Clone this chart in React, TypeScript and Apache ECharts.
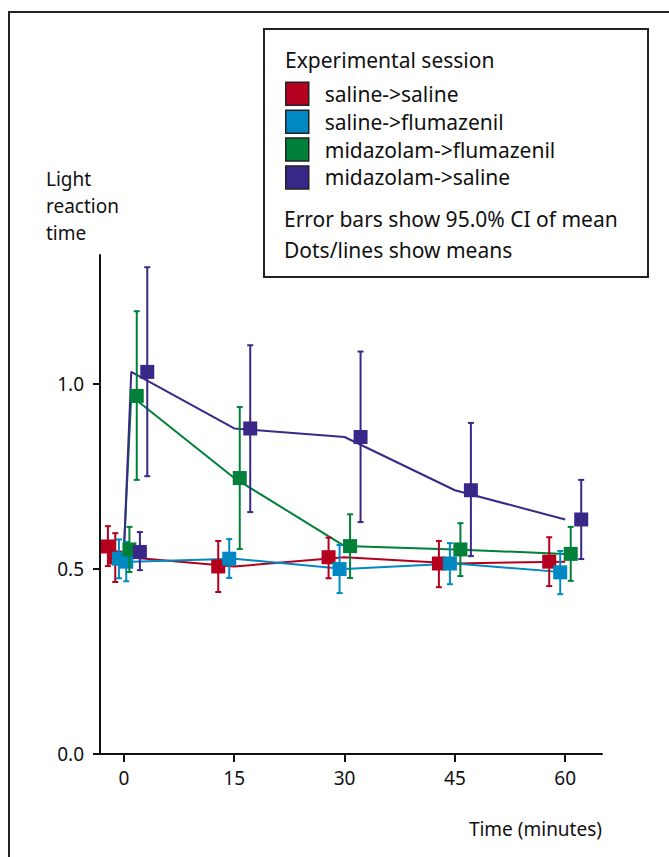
import React, { useEffect, useRef } from "react";
import * as echarts from "echarts";

const times = [0, 1, 15, 30, 45, 60];
const sessions = ["saline->saline", "saline->flumazenil", "midazolam->flumazenil", "midazolam->saline"];

const salSalMean = [0.561, 0.531, 0.507, 0.532, 0.515, 0.52];
const salSalLow = [0.508, 0.465, 0.438, 0.475, 0.451, 0.454];
const salSalHigh = [0.616, 0.597, 0.576, 0.585, 0.576, 0.586];

const salFluMean = [0.528, 0.52, 0.528, 0.5, 0.515, 0.491];
const salFluLow = [0.475, 0.467, 0.476, 0.435, 0.459, 0.432];
const salFluHigh = [0.58, 0.573, 0.581, 0.565, 0.57, 0.549];

const midFluMean = [0.553, 0.968, 0.746, 0.562, 0.553, 0.541];
const midFluLow = [0.492, 0.741, 0.554, 0.476, 0.481, 0.468];
const midFluHigh = [0.614, 1.197, 0.938, 0.648, 0.624, 0.614];

const midSalMean = [0.546, 1.033, 0.88, 0.857, 0.713, 0.634];
const midSalLow = [0.497, 0.751, 0.654, 0.627, 0.535, 0.527];
const midSalHigh = [0.6, 1.316, 1.105, 1.088, 0.895, 0.741];

const xTicks = [0, 15, 30, 45, 60];
const yTicks = [0, 0.5, 1.0];

const colors = ["#b4001e", "#0088c2", "#008038", "#3a2889"];
const dodge = [-16, -5, 5.5, 16];
const FONT = "Noto Sans";

const means = [salSalMean, salFluMean, midFluMean, midSalMean];
const lows = [salSalLow, salFluLow, midFluLow, midSalLow];
const highs = [salSalHigh, salFluHigh, midFluHigh, midSalHigh];

export default function App() {
  const ref = useRef<HTMLDivElement>(null);
  useEffect(() => {
    if (!ref.current) return;
    const chart = echarts.init(ref.current, null, { renderer: "svg" });

    const lineSeries = sessions.map((name, s) => ({
      type: "line",
      name,
      data: times.map((t, i) => [t, means[s][i]]),
      showSymbol: false,
      symbol: "none",
      lineStyle: { color: colors[s], width: 2 },
      itemStyle: { color: colors[s] },
      z: 2,
    }));

    const markSeries = sessions.map((name, s) => ({
      type: "custom",
      name,
      data: times.map((t, i) => [t, means[s][i], lows[s][i], highs[s][i]]),
      encode: { x: 0, y: 1 },
      itemStyle: { color: colors[s] },
      z: 3 + s,
      renderItem: (params: any, api: any) => {
        const x = api.value(0);
        const pm = api.coord([x, api.value(1)]);
        const pl = api.coord([x, api.value(2)]);
        const ph = api.coord([x, api.value(3)]);
        const cx = pm[0] + dodge[s];
        const c = colors[s];
        const ls = { stroke: c, lineWidth: 2 };
        return {
          type: "group",
          children: [
            { type: "line", shape: { x1: cx, y1: ph[1], x2: cx, y2: pl[1] }, style: ls },
            { type: "line", shape: { x1: cx - 3, y1: ph[1], x2: cx + 3, y2: ph[1] }, style: ls },
            { type: "line", shape: { x1: cx - 3, y1: pl[1], x2: cx + 3, y2: pl[1] }, style: ls },
            { type: "rect", shape: { x: cx - 7, y: pm[1] - 7, width: 14, height: 14 }, style: { fill: c } },
          ],
        };
      },
    }));

    const option: any = {
      animation: false,
      backgroundColor: "#fff",
      textStyle: { fontFamily: FONT },
      grid: { left: 100, right: 67, top: 255, bottom: 103 },
      xAxis: {
        type: "value",
        min: -3.25,
        max: 65,
        axisLine: { show: true, onZero: false, lineStyle: { color: "#111", width: 2 } },
        axisTick: { show: true, customValues: xTicks, length: 8, lineStyle: { color: "#111", width: 2 } },
        axisLabel: { customValues: xTicks, margin: 14, fontSize: 19, color: "#111", fontFamily: FONT },
        splitLine: { show: false },
      },
      yAxis: {
        type: "value",
        min: 0,
        max: 1.349,
        axisLine: { show: true, onZero: false, lineStyle: { color: "#111", width: 2 } },
        axisTick: { show: true, customValues: yTicks, length: 7, lineStyle: { color: "#111", width: 2 } },
        axisLabel: {
          customValues: yTicks,
          margin: 16,
          fontSize: 19,
          color: "#111",
          fontFamily: FONT,
          formatter: (v: number) => v.toFixed(1),
        },
        splitLine: { show: false },
      },
      legend: {
        orient: "vertical",
        left: 285,
        top: 81.5,
        padding: 0,
        itemWidth: 23,
        itemHeight: 23,
        itemGap: 3.4,
        z: 20,
        textStyle: { fontSize: 21, lineHeight: 20, color: "#111", fontFamily: FONT, padding: [0, 0, 0, 11] },
        data: sessions.map((name, s) => ({
          name,
          icon: "rect",
          itemStyle: { color: colors[s], borderColor: "#222", borderWidth: 1.5 },
        })),
      },
      graphic: [
        {
          type: "rect",
          z: -10,
          shape: { x: 9, y: 12, width: 700, height: 900 },
          style: { fill: "none", stroke: "#222", lineWidth: 2 },
        },
        {
          type: "rect",
          z: 0,
          shape: { x: 264, y: 29, width: 384, height: 248 },
          style: { fill: "#fff", stroke: "#222", lineWidth: 2 },
        },
        {
          type: "text",
          z: 1,
          x: 285,
          y: 60,
          style: { text: "Experimental session", fontSize: 21, fill: "#111", fontFamily: FONT, verticalAlign: "middle" },
        },
        {
          type: "text",
          z: 1,
          x: 284,
          y: 219,
          style: { text: "Error bars show 95.0% CI of mean", fontSize: 21, fill: "#111", fontFamily: FONT, verticalAlign: "middle" },
        },
        {
          type: "text",
          z: 1,
          x: 284,
          y: 250,
          style: { text: "Dots/lines show means", fontSize: 21, fill: "#111", fontFamily: FONT, verticalAlign: "middle" },
        },
        {
          type: "text",
          x: 46,
          y: 179,
          style: { text: "Light", fontSize: 19, fill: "#111", fontFamily: FONT, verticalAlign: "middle" },
        },
        {
          type: "text",
          x: 46,
          y: 206,
          style: { text: "reaction", fontSize: 19, fill: "#111", fontFamily: FONT, verticalAlign: "middle" },
        },
        {
          type: "text",
          x: 46,
          y: 233,
          style: { text: "time", fontSize: 19, fill: "#111", fontFamily: FONT, verticalAlign: "middle" },
        },
        {
          type: "text",
          x: 602,
          y: 829,
          style: { text: "Time (minutes)", fontSize: 19, fill: "#111", fontFamily: FONT, align: "right", verticalAlign: "middle" },
        },
      ],
      series: [...lineSeries, ...markSeries],
    };
    chart.setOption(option);
    return () => chart.dispose();
  }, []);
  return <div ref={ref} style={{ position: "fixed", left: 0, top: 0, width: 669, height: 857 }} />;
}
